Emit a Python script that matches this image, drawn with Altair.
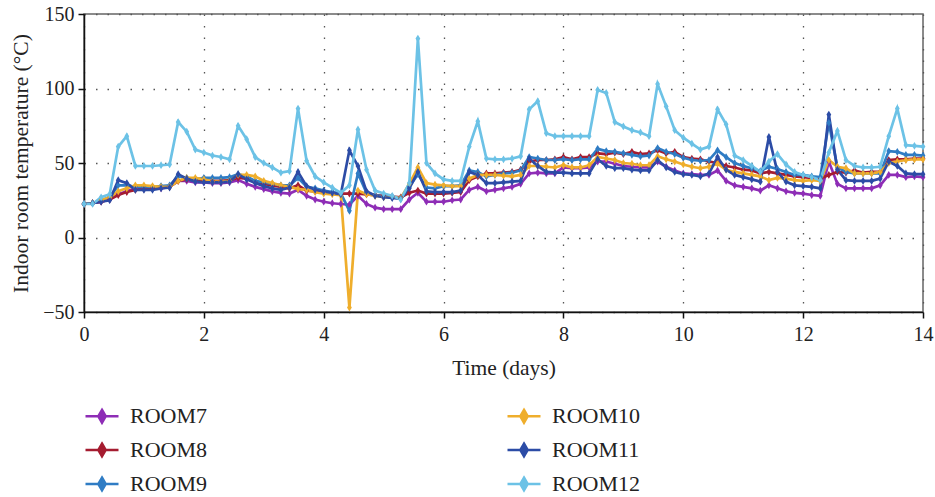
import altair as alt
import pandas as pd

# sample times: 7 readings per day over 14 days
time_days = [round(i / 7, 4) for i in range(99)]

ROOM7 = [22.5,23,24,25.5,29,31,33,33,33,33,
         34,38,38,37,37,36.5,36.5,37,38.5,36,
         34,32.5,31,30,29.5,32,28,25.5,24,23,
         22.5,22,28,22.5,20,19,19,19,25.5,30,
         24,24,24,25,25.5,32,34,31,32,33,
         34,36,43,43.5,43,43,47,46.5,46.5,47,
         51,51,49.5,48,47.5,47,47,51,47.5,45,
         43,42.5,42,42,45,38,35,34,33,31.5,
         35,33,31,30,29.5,28.5,28,51,36,33,
         33,33,33,35,42,42,40.5,41,40.5]
ROOM8 = [22.5,23,24,25.5,28.5,30.5,32,32.5,33,33.5,
         34,38,39,38.5,38,38,38,38.5,40,39.5,
         37.5,36,35,34,33,35,31.5,31,30.5,30,
         29.5,29.5,29.5,29,28.5,28,27.5,27,30,31.5,
         29.5,29.5,29.5,30,30.5,38.5,41,43,43,43.5,
         44,45.5,51,52,52,52.5,54,52.5,54,54,
         56.5,56,57,56,57.5,56,56.5,58.5,56.5,57.5,
         54,53,52.5,51,50,48,47,45.5,45,43,
         44,43,42,41,40.5,40,39.5,42,44,43.5,
         45,43.5,44,44,52,52.5,52.5,53,53]
ROOM9 = [22.5,23,25,27,35,35,34,34,34,34.5,
         35,41,40,39,40,40,40,40.5,42.5,41,
         38,37,36,35,35,40,34,33,31.5,30.5,
         29.5,18,43,30,28.5,27.5,27,26.5,34,42.5,
         33.5,33,34.5,34.5,35,45,44,41,42,43,
         43.5,45,54,53,52,52,52.5,52,52.5,52.5,
         59.5,58,57.5,56.5,55.5,54.5,55,60,57.5,56,
         53.5,52,51.5,52,58.5,54,50,48,46.5,44.5,
         47.5,46,44,42,42,41,40.5,77,47,44,
         43,43,43,43,58,57.5,55.5,55.5,55]
ROOM10 = [22.5,23,25,27,31,33,35,35,34.5,34,
          34,38,40,40,39,37.5,37.5,38,42,42,
          41,38,36.5,35,34,32.5,32,30.5,29.5,29,
          28.5,-47,31.5,29,28,27,27,26.5,36,47,
          36.5,35.5,35,34.5,34.5,39.5,42,42,42,41.5,
          41,42,48,48,47.5,47,48.5,47,47,48.5,
          54,53,52,50,49.5,48.5,48.5,54.5,52.5,51,
          49,47.5,46.5,47.5,49.5,45.5,44,43,42,41,
          38.5,40,39.5,38.5,38,38.5,38,52,47.5,46.5,
          43,43,43,44,50,51,52,52.5,52.5]
ROOM11 = [22.5,23,24,25,38.5,36.5,32,32,32,33,
          33.5,42.5,39.5,37.5,37,37,37,37.5,42.5,39,
          36.5,34.5,33,32,33.5,44,34.5,32,31,30,
          29,58.5,48,31,28,27,26.5,26,33,44,
          31,30.5,30.5,30.5,31.5,44,42,36.5,36.5,37,
          37.5,38,53,48,44,43.5,43.5,43,43,43,
          52.5,48,46.5,46.5,45.5,45,45,52,47,44,
          42.5,42,41,43,54,45.5,42,40.5,39,37.5,
          67.5,44,37.5,35,34.5,34,33,82.5,45.5,38.5,
          38,38,38,39.5,51,48,43,42.5,42.5]
ROOM12 = [22.5,22.5,27,29,61,68,48,48,48,48.5,
          49,77.5,71,59,57,55,54,52.5,75,66,
          54,50,47,43.5,44.5,86.5,51.5,41,37,33.5,
          30,35,72.5,45.5,31.5,29.5,28,25.5,36.5,133.5,
          50,43,39,38,38,61,78,53,52.5,52.5,
          53,54.5,86,91.5,70,68,68,68,68,68,
          99,97,77.5,74.5,72,70.5,68,103,88,72,
          67,63,59,61,86,76,55,52,48,44,
          51,56,49,44,42,40.5,38.5,57,71.5,52,
          48,47,47,47.5,68,86.5,62,61.5,61]

rooms = ["ROOM7", "ROOM8", "ROOM9", "ROOM10", "ROOM11", "ROOM12"]
series = [ROOM7, ROOM8, ROOM9, ROOM10, ROOM11, ROOM12]
colors = ["#8e2db6", "#a51c30", "#2f7cc4", "#efae2c", "#2c4ca6", "#6cc2e6"]

x_ticks = [0, 2, 4, 6, 8, 10, 12, 14]
y_ticks = [-50, 0, 50, 100, 150]

rows = []
for name, vals in zip(rooms, series):
    for t, v in zip(time_days, vals):
        rows.append({"t": t, "room": name, "temp": v})
df = pd.DataFrame(rows)

FONT = "Liberation Serif"
SYM = "M-1,0L1,0M0,-0.38L0.22,0L0,0.38L-0.22,0Z"
MARK = "M0,-1L0.62,0L0,1L-0.62,0Z"

legend = alt.Legend(
    title=None, orient="none", legendX=0, legendY=384, columns=2,
    columnPadding=294, rowPadding=4, symbolType=SYM, symbolSize=1089,
    symbolStrokeWidth=2.6, labelFont=FONT, labelFontSize=22,
    labelColor="#222", labelOffset=10,
)
color_scale = alt.Scale(domain=rooms, range=colors)

x_enc = alt.X("t:Q", scale=alt.Scale(domain=[0, 14], nice=False, zero=False),
              axis=alt.Axis(values=x_ticks, title="Time (days)", format="d", labelFlush=False))
y_enc = alt.Y("temp:Q", scale=alt.Scale(domain=[-50, 150], nice=False),
              axis=alt.Axis(values=y_ticks, title="Indoor room temperature (°C)", labelFlush=False))

lines = alt.Chart(df).mark_line(strokeWidth=2.7).encode(
    x=x_enc, y=y_enc,
    stroke=alt.Stroke("room:N", scale=color_scale, legend=legend),
    order=alt.Order("t:Q"),
)
points = alt.Chart(df).mark_point(filled=True, shape=MARK, size=60, opacity=1).encode(
    x=x_enc, y=y_enc,
    fill=alt.Fill("room:N", scale=color_scale, legend=legend),
)

chart = alt.layer(lines, points).properties(
    width=839, height=298,
    padding={"left": 84, "top": 14, "right": 12, "bottom": 185},
    autosize=alt.AutoSizeParams(type="none"),
    background="white",
).configure_view(
    stroke="#666", strokeWidth=1.5
).configure_axis(
    domainColor="#111", domainWidth=1.5,
    tickColor="#111", tickSize=6, tickWidth=1.5,
    labelFont=FONT, labelFontSize=20, labelColor="#222",
    titleFont=FONT, titleFontSize=21.5, titleFontWeight="normal", titleColor="#222",
    gridColor="#555", gridDash=[1.5, 10], gridWidth=1.3,
).configure_axisX(
    labelPadding=6, titlePadding=13,
).configure_axisY(
    labelPadding=4, titlePadding=10,
)

chart.save("out.html", embed_options={"renderer": "svg", "actions": False})
